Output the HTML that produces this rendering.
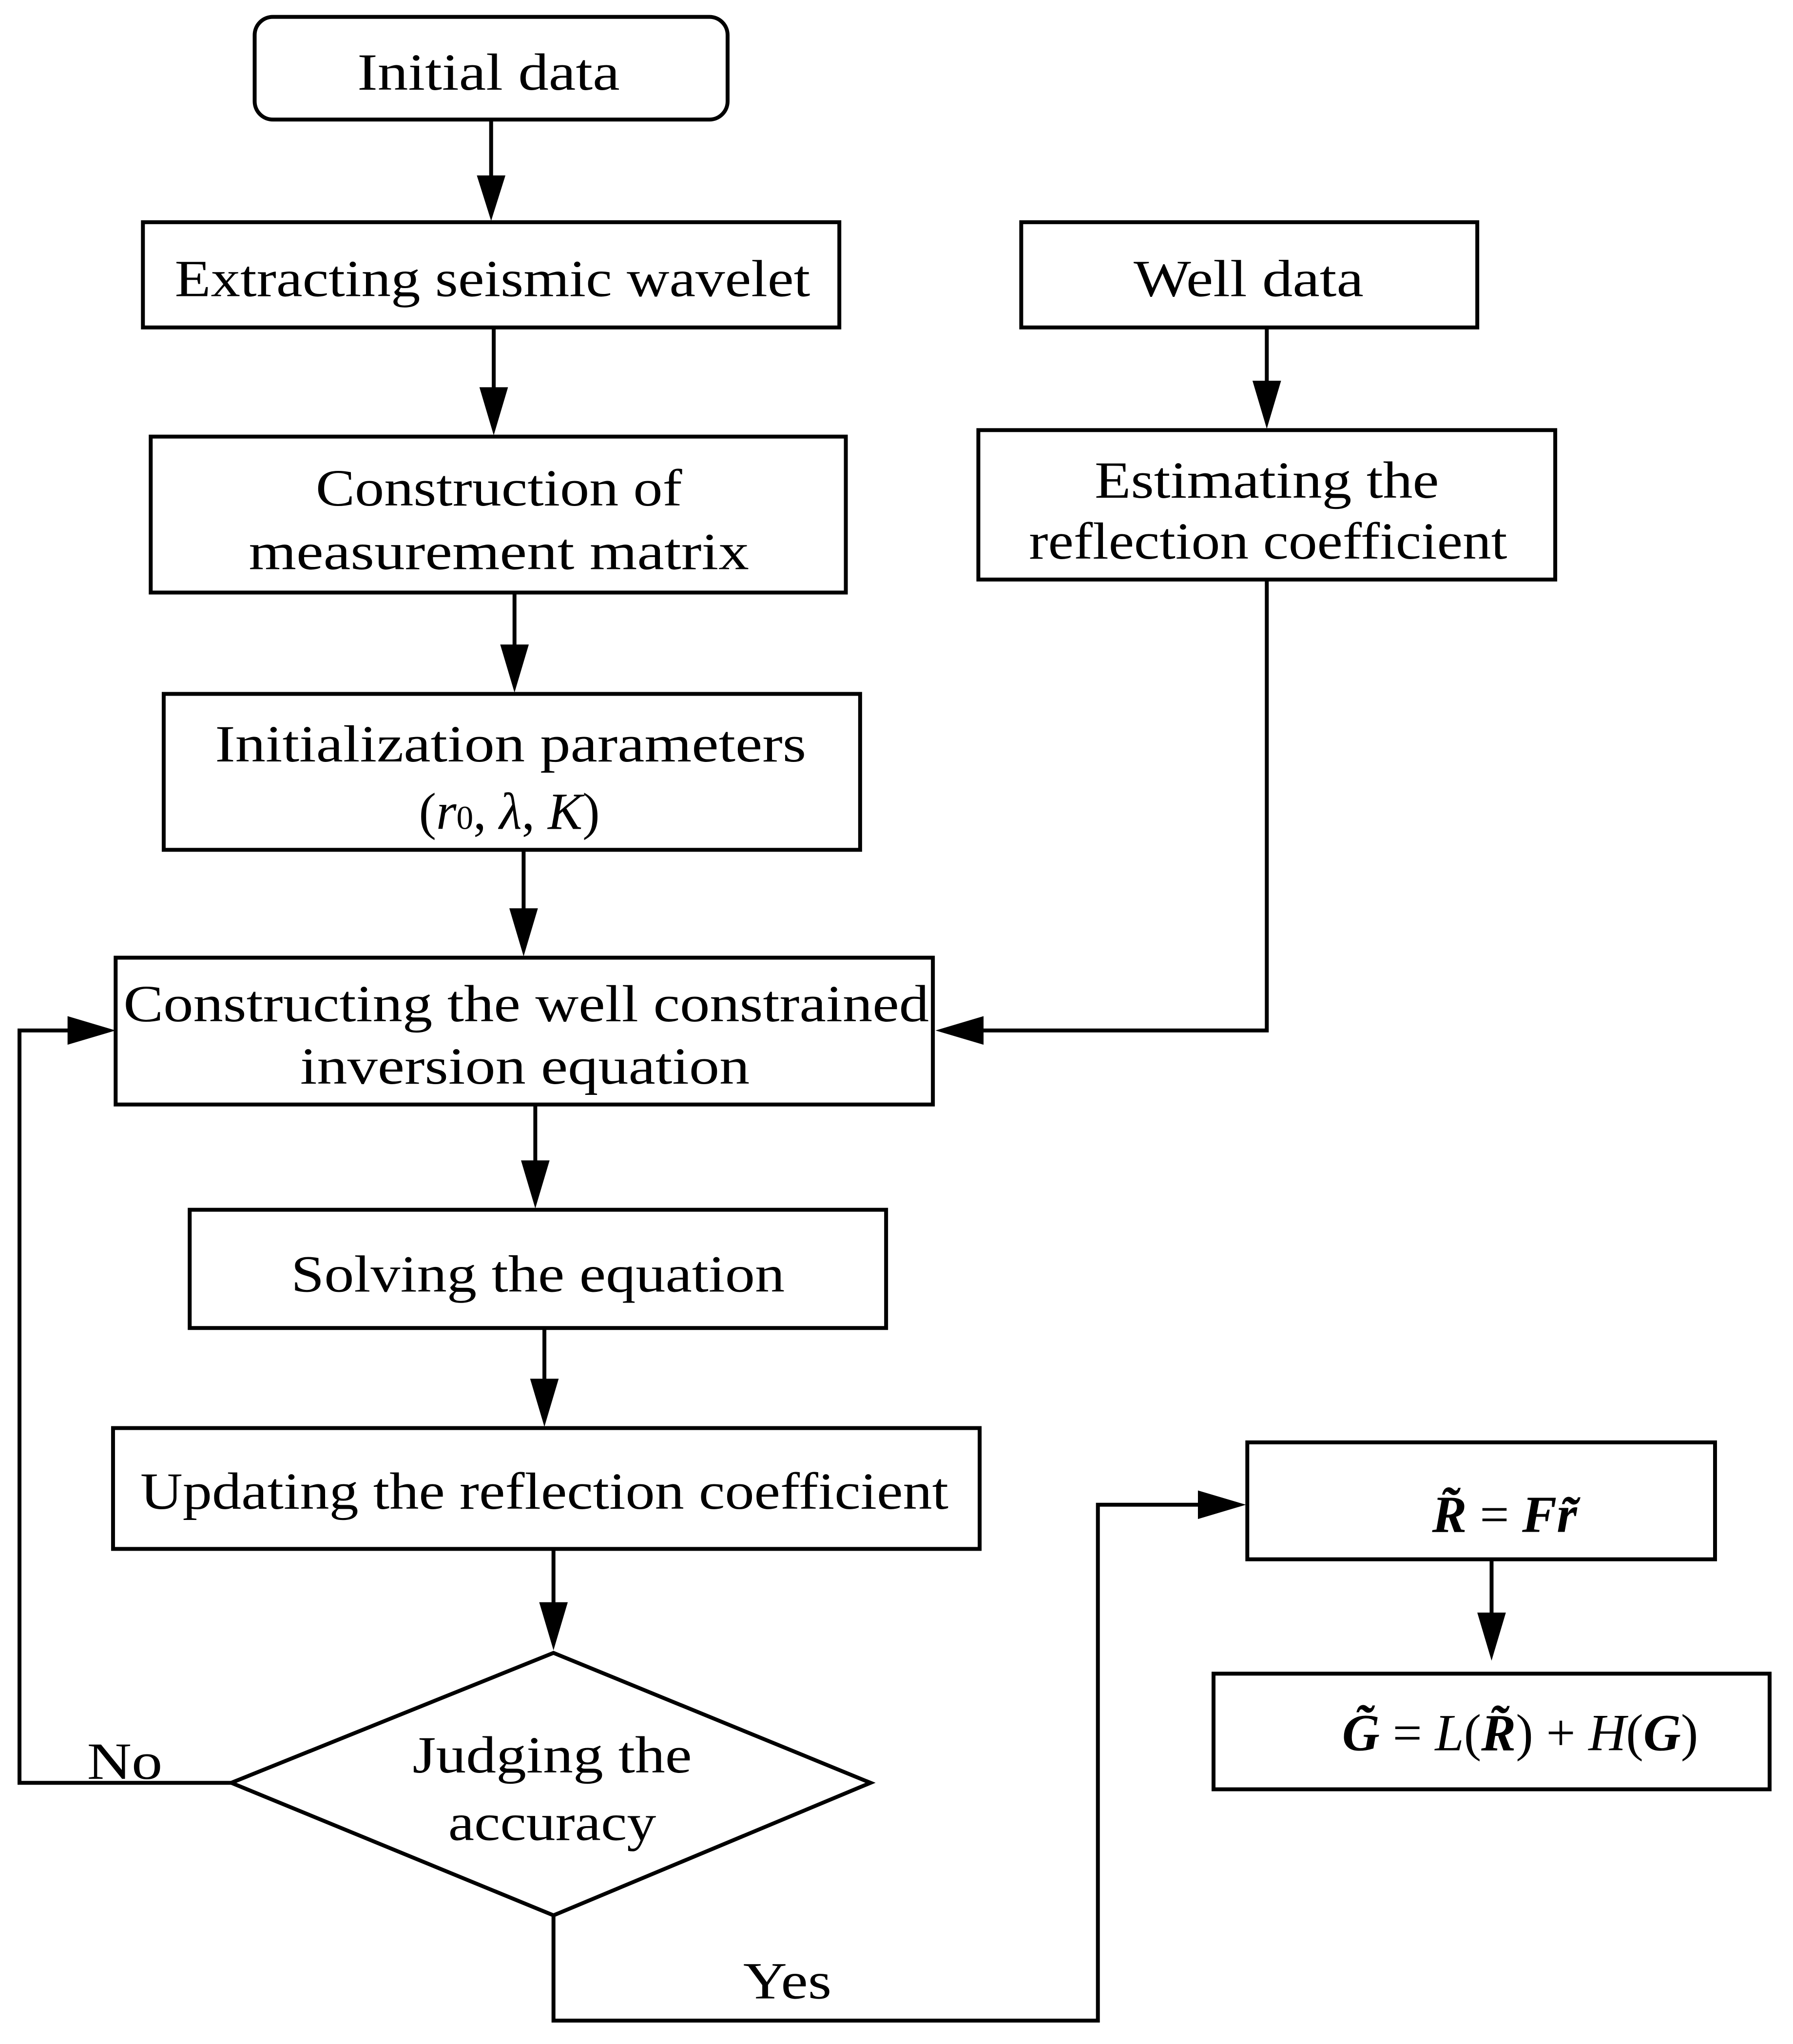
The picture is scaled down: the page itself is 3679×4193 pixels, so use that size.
<!DOCTYPE html>
<html><head><meta charset="utf-8"><style>
html,body{margin:0;padding:0;background:#fff;}
svg{display:block;width:3679px;height:4193px;}
text{font-family:"Liberation Serif",serif;font-size:40px;fill:#000;text-anchor:middle;}
.b{fill:#fff;stroke:#000;stroke-width:3;}
.l{fill:none;stroke:#000;stroke-width:3;}
</style></head><body>
<svg viewBox="0 0 1380 1573" preserveAspectRatio="none" xmlns="http://www.w3.org/2000/svg">
<g>
<rect class="b" x="196" y="13" width="364" height="79" rx="14"/>
<text x="376" y="69" textLength="202" lengthAdjust="spacingAndGlyphs">Initial data</text>
<rect class="b" x="110" y="171" width="536" height="81"/>
<text x="379" y="228" textLength="489" lengthAdjust="spacingAndGlyphs">Extracting seismic wavelet</text>
<rect class="b" x="116" y="336" width="535" height="120"/>
<text x="384" y="389" textLength="282" lengthAdjust="spacingAndGlyphs">Construction of</text>
<text x="384" y="438" textLength="385" lengthAdjust="spacingAndGlyphs">measurement matrix</text>
<rect class="b" x="126" y="534" width="536" height="120"/>
<text x="393" y="586" textLength="455" lengthAdjust="spacingAndGlyphs">Initialization parameters</text>
<text x="392" y="638">(<tspan font-style="italic">r</tspan><tspan font-size="26">0</tspan>, <tspan font-style="italic">λ</tspan>, <tspan font-style="italic">K</tspan>)</text>
<rect class="b" x="89" y="737" width="629" height="113"/>
<text x="405" y="786" textLength="620" lengthAdjust="spacingAndGlyphs">Constructing the well constrained</text>
<text x="404" y="834" textLength="346" lengthAdjust="spacingAndGlyphs">inversion equation</text>
<rect class="b" x="146" y="931" width="536" height="91"/>
<text x="414" y="994" textLength="380" lengthAdjust="spacingAndGlyphs">Solving the equation</text>
<rect class="b" x="87" y="1099" width="667" height="93"/>
<text x="419" y="1161" textLength="622" lengthAdjust="spacingAndGlyphs">Updating the reflection coefficient</text>
<polygon class="b" points="426,1272 670,1372 426,1474 178,1372"/>
<text x="425" y="1364" textLength="215" lengthAdjust="spacingAndGlyphs">Judging the</text>
<text x="425" y="1416" textLength="160" lengthAdjust="spacingAndGlyphs">accuracy</text>
<text x="96" y="1369" textLength="58" lengthAdjust="spacingAndGlyphs">No</text>
<text x="606" y="1538" textLength="68" lengthAdjust="spacingAndGlyphs">Yes</text>
<rect class="b" x="786" y="171" width="351" height="81"/>
<text x="961" y="228" textLength="177" lengthAdjust="spacingAndGlyphs">Well data</text>
<rect class="b" x="753" y="331" width="444" height="115"/>
<text x="975" y="383" textLength="265" lengthAdjust="spacingAndGlyphs">Estimating the</text>
<text x="976" y="430" textLength="368" lengthAdjust="spacingAndGlyphs">reflection coefficient</text>
<rect class="b" x="960" y="1110" width="360" height="90"/>
<text x="1158" y="1179" font-weight="bold" font-style="italic">R̃ <tspan font-weight="normal" font-style="normal">=</tspan> Fr̃</text>
<rect class="b" x="934" y="1288" width="428" height="89"/>
<text x="1170" y="1347"><tspan font-weight="bold" font-style="italic">G̃</tspan> = <tspan font-style="italic">L</tspan>(<tspan font-weight="bold" font-style="italic">R̃</tspan>) + <tspan font-style="italic">H</tspan>(<tspan font-weight="bold" font-style="italic">G</tspan>)</text>
</g>
<g>
<path class="l" d="M378,92 V137"/><path d="M367,135 L389,135 L378,170 z"/>
<path class="l" d="M380,252 V300"/><path d="M369,298 L391,298 L380,335 z"/>
<path class="l" d="M396,456 V498"/><path d="M385,496 L407,496 L396,533 z"/>
<path class="l" d="M403,654 V701"/><path d="M392,699 L414,699 L403,736 z"/>
<path class="l" d="M412,850 V895"/><path d="M401,893 L423,893 L412,930 z"/>
<path class="l" d="M419,1022 V1063"/><path d="M408,1061 L430,1061 L419,1098 z"/>
<path class="l" d="M426,1192 V1235"/><path d="M415,1233 L437,1233 L426,1270 z"/>
<path class="l" d="M975,252 V295"/><path d="M964,293 L986,293 L975,330 z"/>
<path class="l" d="M1148,1200 V1243"/><path d="M1137,1241 L1159,1241 L1148,1278 z"/>
<path class="l" d="M178,1372 H15 V793 H55"/><path d="M52,782 L52,804 L89,793 z"/>
<path class="l" d="M975,446 V793 H754"/><path d="M757,782 L757,804 L720,793 z"/>
<path class="l" d="M426,1474 V1555 H845 V1158 H925"/><path d="M922,1147 L922,1169 L959,1158 z"/>
</g>
</svg>
</body></html>
